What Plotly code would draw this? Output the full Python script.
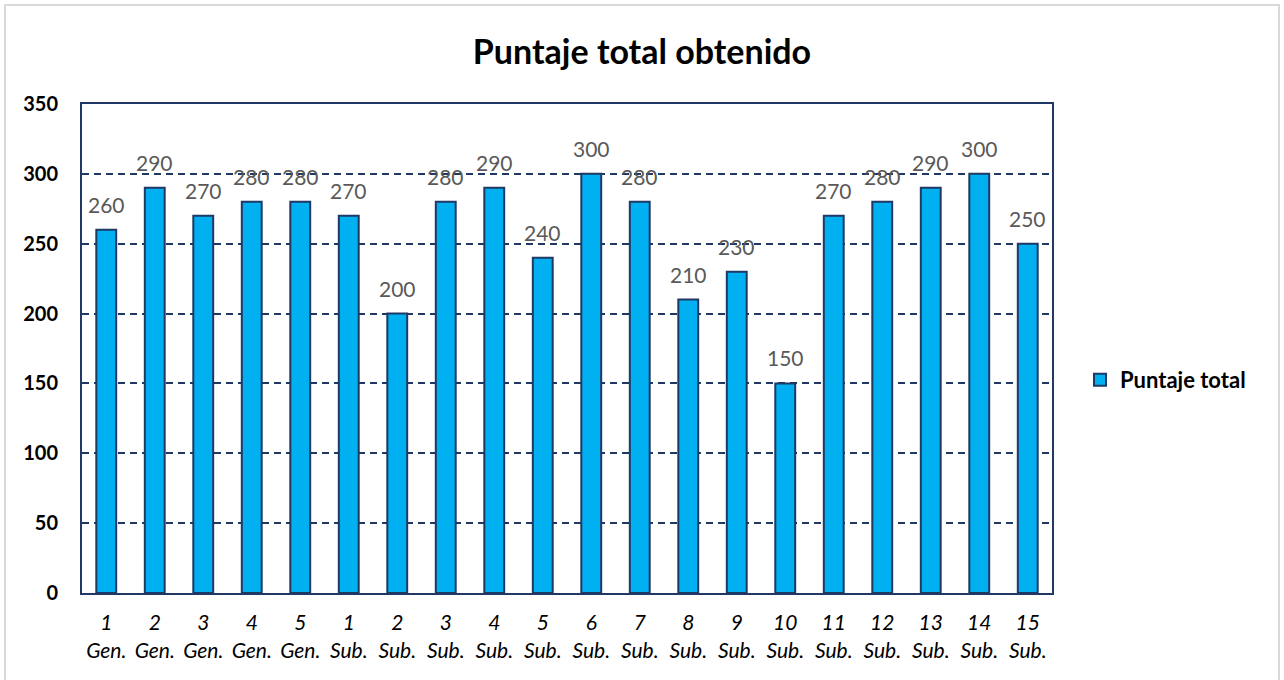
import plotly.graph_objects as go

categories = ["1<br>Gen.", "2<br>Gen.", "3<br>Gen.", "4<br>Gen.", "5<br>Gen.",
              "1<br>Sub.", "2<br>Sub.", "3<br>Sub.", "4<br>Sub.", "5<br>Sub.",
              "6<br>Sub.", "7<br>Sub.", "8<br>Sub.", "9<br>Sub.", "10<br>Sub.",
              "11<br>Sub.", "12<br>Sub.", "13<br>Sub.", "14<br>Sub.", "15<br>Sub."]
values = [260, 290, 270, 280, 280, 270, 200, 280, 290, 240,
          300, 280, 210, 230, 150, 270, 280, 290, 300, 250]
y_ticks = [0, 50, 100, 150, 200, 250, 300, 350]

FONT = "Lato, 'Open Sans', sans-serif"
NAVY = "#1f3864"

xs = list(range(len(categories)))

fig = go.Figure()
fig.add_trace(go.Bar(
    x=xs, y=values, name="<b>Puntaje total</b>",
    marker=dict(color="#00b0f0", line=dict(color=NAVY, width=2)),
    hoverinfo="y",
))

annotations = [dict(x=x, y=v, text=str(v), showarrow=False, xref="x", yref="y",
                    yanchor="bottom", yshift=11,
                    font=dict(color="#595959", size=21, family=FONT))
               for x, v in zip(xs, values)]

W, H = 1284, 680
L, R, T, B = 82, 232, 104, 87
pw, ph = W - L - R, H - T - B

fig.update_layout(
    width=W, height=H,
    margin=dict(l=L, r=R, t=T, b=B),
    paper_bgcolor="white", plot_bgcolor="white",
    font=dict(family=FONT, color="black"),
    title=dict(text="<b>Puntaje total obtenido</b>", x=0.5, xanchor="center",
               y=1 - 52 / H, yanchor="middle",
               font=dict(size=34, family=FONT, color="black")),
    bargap=0.59,
    showlegend=True,
    legend=dict(x=(1080 - L) / pw, xanchor="left", y=(H - B - 380) / ph, yanchor="middle",
                font=dict(size=22, family=FONT, color="black"),
                itemsizing="constant"),
    annotations=annotations,
    xaxis=dict(
        tickmode="array", tickvals=xs, ticktext=categories,
        range=[-0.5, len(categories) - 0.5],
        tickfont=dict(size=21, family=FONT, color="black", style="italic"),
        showline=True, linecolor=NAVY, linewidth=2, mirror=True,
        showgrid=False, ticks="", ticklabelstandoff=10,
    ),
    yaxis=dict(
        range=[0, 350], tickvals=y_ticks,
        tickfont=dict(size=20, family=FONT, color="black", weight="bold"),
        showline=True, linecolor=NAVY, linewidth=2, mirror=True,
        showgrid=True, gridcolor=NAVY, gridwidth=1.5, griddash="7px,5px",
        ticks="", ticklabelstandoff=18, zeroline=False,
    ),
    shapes=[dict(type="rect", xref="paper", yref="paper",
                 x0=(5 - L) / pw, x1=(1279 - L) / pw,
                 y0=-0.3, y1=1 + (T - 5) / ph,
                 line=dict(color="#d9d9d9", width=2), fillcolor="rgba(0,0,0,0)",
                 layer="below")],
)

fig.write_html("out.html", config={"displayModeBar": False},
               post_script="document.body.style.margin='0';document.body.style.overflow='hidden';")
